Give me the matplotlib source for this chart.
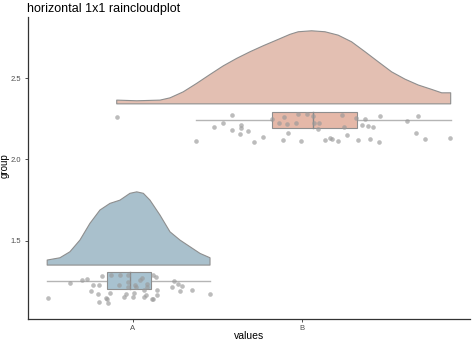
import matplotlib
matplotlib.use("Agg")
import matplotlib.pyplot as plt
import numpy as np

plt.rcParams['font.family'] = ['Liberation Sans', 'DejaVu Sans']

# categories on the x axis
tick_pos = [1, 2]
tick_labels = ["A", "B"]
y_ticks = [1.5, 2.0, 2.5]

# half-violin outlines (x, top of cloud) and their flat bases
cloud_a_x = [0.496, 0.571, 0.630, 0.689, 0.748, 0.807, 0.866, 0.925, 0.984, 1.024,
             1.063, 1.102, 1.161, 1.220, 1.279, 1.338, 1.397, 1.456]
cloud_a_y = [1.380, 1.394, 1.431, 1.503, 1.606, 1.688, 1.729, 1.749, 1.791, 1.800,
             1.791, 1.749, 1.657, 1.554, 1.503, 1.462, 1.421, 1.394]
cloud_a_base = 1.349

cloud_b_x = [0.906, 1.024, 1.161, 1.220, 1.298, 1.377, 1.456, 1.534, 1.613, 1.692,
             1.770, 1.849, 1.927, 1.976, 2.055, 2.134, 2.212, 2.291, 2.370, 2.448,
             2.527, 2.606, 2.684, 2.763, 2.822, 2.875]
cloud_b_y = [2.365, 2.361, 2.365, 2.379, 2.416, 2.468, 2.523, 2.576, 2.622, 2.663,
             2.700, 2.735, 2.770, 2.786, 2.792, 2.786, 2.765, 2.724, 2.663, 2.601,
             2.539, 2.494, 2.458, 2.431, 2.410, 2.410]
cloud_b_base = 2.342

# boxplot stats: whisker low, q1, median, q3, whisker high
box_a = [0.496, 0.847, 0.984, 1.108, 1.456]
box_b = [1.375, 1.821, 2.065, 2.323, 2.877]
box_a_y = [1.201, 1.252, 1.306]
box_b_y = [2.193, 2.242, 2.291]

# jittered raw points
rain_a_x = [0.499, 0.632, 0.701, 0.731, 0.756, 0.766, 0.800, 0.795, 0.800, 0.819,
            0.843, 0.848, 0.853, 0.868, 0.870, 0.917, 0.925, 0.949, 0.959, 0.971,
            0.974, 0.974, 1.004, 1.009, 1.014, 1.018, 1.043, 1.053, 1.067, 1.067,
            1.078, 1.083, 1.083, 1.114, 1.121, 1.121, 1.137, 1.142, 1.145, 1.232,
            1.245, 1.265, 1.279, 1.291, 1.351, 1.456]
rain_a_y = [1.148, 1.240, 1.257, 1.265, 1.189, 1.224, 1.224, 1.171, 1.119, 1.280,
            1.148, 1.140, 1.115, 1.179, 1.288, 1.224, 1.288, 1.154, 1.171, 1.243,
            1.288, 1.212, 1.154, 1.175, 1.226, 1.212, 1.257, 1.267, 1.154, 1.195,
            1.163, 1.232, 1.216, 1.138, 1.138, 1.288, 1.273, 1.163, 1.193, 1.216,
            1.249, 1.234, 1.189, 1.220, 1.193, 1.172]

rain_b_x = [1.585, 1.375, 1.478, 1.531, 1.587, 1.637, 1.640, 1.633, 1.680, 1.715,
            1.770, 1.821, 1.864, 1.890, 1.908, 1.916, 1.888, 1.965, 1.973, 2.028,
            1.992, 2.065, 2.067, 2.097, 2.094, 2.136, 2.163, 2.173, 2.209, 2.236,
            2.246, 2.265, 2.315, 2.328, 2.352, 2.370, 2.387, 2.415, 2.397, 2.454,
            2.460, 2.619, 2.684, 2.670, 2.723, 2.873, 0.907]
rain_b_y = [2.271, 2.115, 2.201, 2.224, 2.182, 2.211, 2.195, 2.156, 2.176, 2.107,
            2.139, 2.246, 2.225, 2.262, 2.216, 2.162, 2.121, 2.225, 2.277, 2.281,
            2.115, 2.268, 2.225, 2.222, 2.185, 2.117, 2.133, 2.123, 2.115, 2.275,
            2.199, 2.151, 2.254, 2.121, 2.211, 2.246, 2.203, 2.201, 2.127, 2.107,
            2.268, 2.238, 2.268, 2.160, 2.127, 2.133, 2.260]

col_a = "#a9c0cc"
col_b = "#e3bfb2"
box_col_a = "#a8c2d0"
box_col_b = "#e5b8a8"
edge = "#8e8e8e"

fig = plt.figure(figsize=(4.74, 3.43), dpi=100)
ax = fig.add_axes([0.0584, 0.070, 0.9332, 0.880])


def draw_group(ax, cx, cy, base, box, by, box_col, fill_col, px, py):
    xs = [cx[0]] + list(cx) + [cx[-1]]
    ys = [base] + list(cy) + [base]
    ax.fill(xs, ys, facecolor=fill_col, edgecolor=edge, linewidth=0.8,
            joinstyle="round", zorder=2)
    lo, q1, med, q3, hi = box
    y0, yc, y1 = by
    ax.plot([lo, q1], [yc, yc], color="#b5b5b5", linewidth=1.0, zorder=2)
    ax.plot([q3, hi], [yc, yc], color="#b5b5b5", linewidth=1.0, zorder=2)
    ax.add_patch(plt.Rectangle((q1, y0), q3 - q1, y1 - y0, facecolor=box_col,
                               edgecolor=edge, linewidth=0.8, zorder=3))
    ax.plot([med, med], [y0, y1], color="#8a8a8a", linewidth=1.0, zorder=3)
    ax.scatter(px, py, s=11, color="#999999", alpha=0.65, linewidths=0, zorder=4)


draw_group(ax, cloud_b_x, cloud_b_y, cloud_b_base, box_b, box_b_y, box_col_b, col_b,
           rain_b_x, rain_b_y)
draw_group(ax, cloud_a_x, cloud_a_y, cloud_a_base, box_a, box_a_y, box_col_a, col_a,
           rain_a_x, rain_a_y)

ax.set_xlim(0.381, 2.989)
ax.set_ylim(1.017, 2.876)
ax.set_xticks(tick_pos)
ax.set_xticklabels(tick_labels)
ax.set_yticks(y_ticks)
ax.set_yticklabels(["1.5", "2.0", "2.5"])
ax.tick_params(axis="both", length=2.5, width=0.6, color="#333333",
               labelsize=5.5, labelcolor="#4d4d4d", pad=2)
for s in ["top", "right"]:
    ax.spines[s].set_visible(False)
for s in ["left", "bottom"]:
    ax.spines[s].set_color("#333333")
    ax.spines[s].set_linewidth(0.9)

# axis titles placed by hand, the figure has almost no margin
fig.text(249 / 474, 1 - 336 / 343, "values", fontsize=7.5, ha="center", va="center")
fig.text(5 / 474, 1 - 166 / 343, "group", fontsize=7, ha="center", va="center",
         rotation=90)
ax.set_title("horizontal 1x1 raincloudplot", fontsize=9, loc="left", x=-0.001, pad=4)

fig.savefig("out.png", dpi=100)
